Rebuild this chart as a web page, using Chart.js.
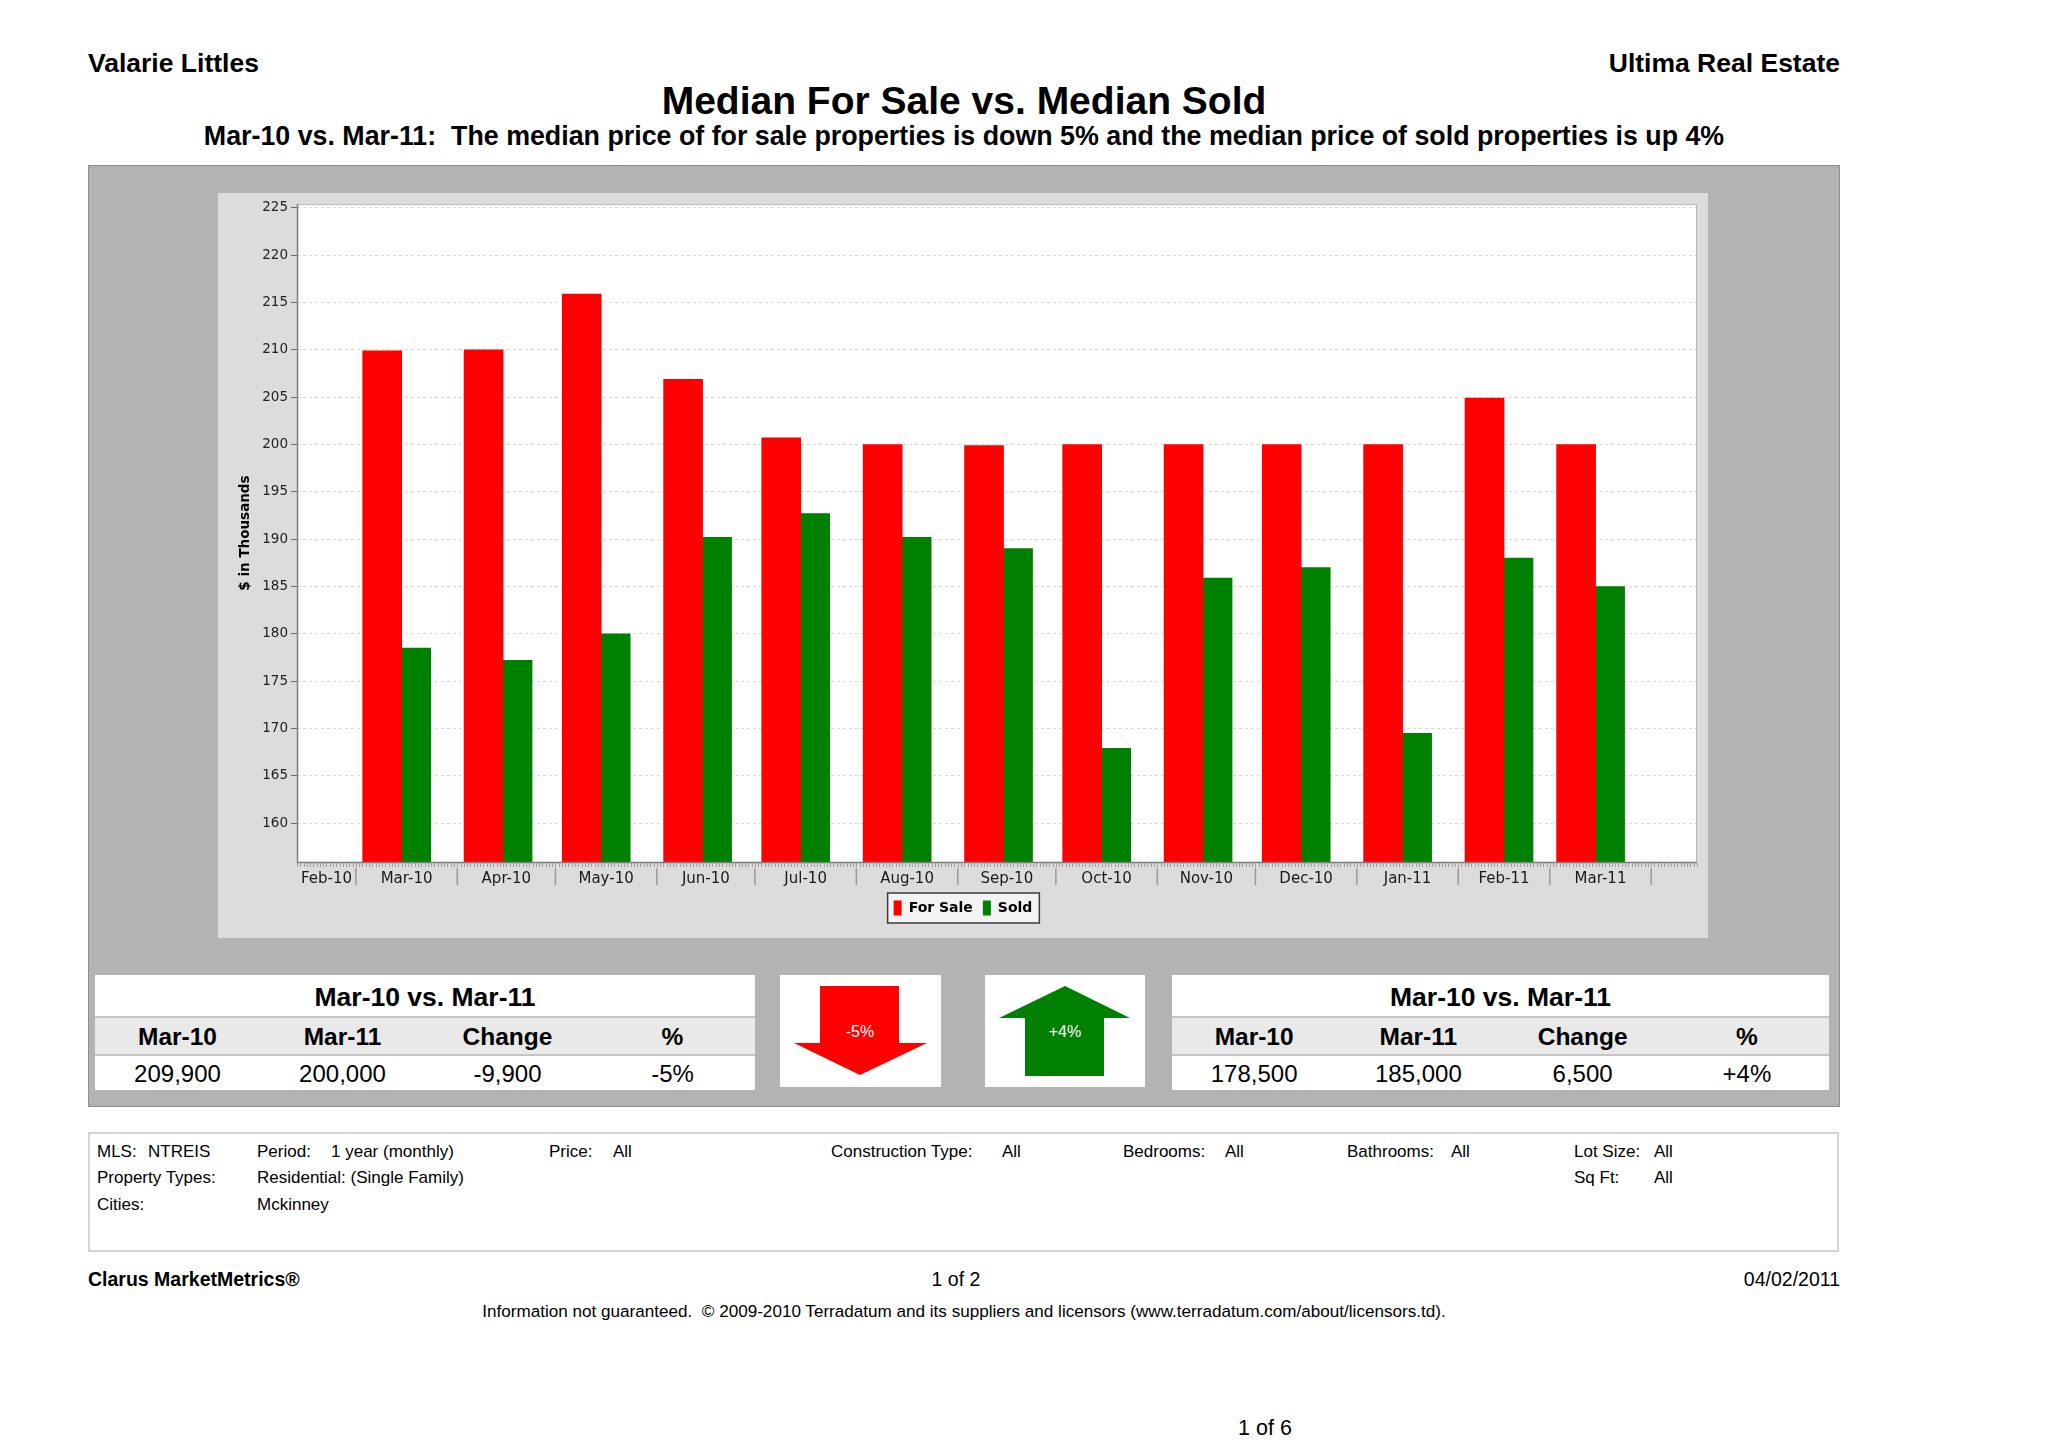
<!DOCTYPE html>
<html>
<head>
<meta charset="utf-8">
<script src="https://cdn.jsdelivr.net/npm/chart.js@4.4.0/dist/chart.umd.min.js"></script>
<style>
  html, body { margin:0; padding:0; background:#fff; }
  body { width:2048px; height:1447px; position:relative; overflow:hidden; font-family:"Liberation Sans", Arial, sans-serif; color:#000; }
  .a { position:absolute; white-space:nowrap; }
  .hdr { font-weight:bold; font-size:26.5px; line-height:30px; }
  .panel { position:absolute; left:88px; top:165px; width:1752px; height:942px; background:#b3b3b3; border:1px solid #8e8e8e; box-sizing:border-box; }
  #cv { position:absolute; left:218px; top:193px; }
  .tbl { position:absolute; top:975px; height:115px; background:#c4c4c4; }
  .row { position:absolute; left:0; right:0; display:flex; }
  .row div { flex:1; text-align:center; }
  .t1 { top:0; height:41px; background:#fff; font-weight:bold; font-size:26.5px; line-height:44px; justify-content:center; }
  .t2 { top:43px; height:36px; background:#e9e9e9; font-weight:bold; font-size:24.5px; line-height:38px; }
  .t3 { top:81px; height:34px; background:#fff; font-size:24px; line-height:35px; }
  .abox { position:absolute; top:975px; width:161px; height:112px; background:#fff; }
  .info { position:absolute; left:88px; top:1132px; width:1751px; height:120px; border:2px solid #d4d4d4; box-sizing:border-box; background:#fff; }
  .it { font-size:17px; line-height:20px; }
</style>
</head>
<body>
<div class="a hdr" style="left:88px; top:48px;">Valarie Littles</div>
<div class="a hdr" style="right:208px; top:48px;">Ultima Real Estate</div>
<div class="a" style="left:0; width:1928px; text-align:center; top:78px; font-weight:bold; font-size:39px; line-height:45px;">Median For Sale vs. Median Sold</div>
<div class="a" style="left:0; width:1928px; text-align:center; top:121px; font-weight:bold; font-size:26.8px; line-height:30px;">Mar-10 vs. Mar-11:&nbsp; The median price of for sale properties is down 5% and the median price of sold properties is up 4%</div>

<div class="panel"></div>
<canvas id="cv" width="1490" height="745"></canvas>

<div class="tbl" style="left:95px; width:660px;">
  <div class="row t1"><div>Mar-10 vs. Mar-11</div></div>
  <div class="row t2"><div>Mar-10</div><div>Mar-11</div><div>Change</div><div>%</div></div>
  <div class="row t3"><div>209,900</div><div>200,000</div><div>-9,900</div><div>-5%</div></div>
</div>
<div class="abox" style="left:780px;">
  <svg width="161" height="112" style="position:absolute;left:0;top:0">
    <polygon points="40,11 119,11 119,68 147,68 80,100 14,68 40,68" fill="#ff0000"/>
    <text x="80" y="62" text-anchor="middle" font-family="Liberation Sans, Arial" font-size="16" fill="#fff">-5%</text>
  </svg>
</div>
<div class="abox" style="left:985px; width:160px;">
  <svg width="160" height="112" style="position:absolute;left:0;top:0">
    <polygon points="80,11 145,43 119,43 119,101 40,101 40,43 14,43" fill="#008000"/>
    <text x="80" y="62" text-anchor="middle" font-family="Liberation Sans, Arial" font-size="16" fill="#fff">+4%</text>
  </svg>
</div>
<div class="tbl" style="left:1172px; width:657px;">
  <div class="row t1"><div>Mar-10 vs. Mar-11</div></div>
  <div class="row t2"><div>Mar-10</div><div>Mar-11</div><div>Change</div><div>%</div></div>
  <div class="row t3"><div>178,500</div><div>185,000</div><div>6,500</div><div>+4%</div></div>
</div>

<div class="info"></div>
<div class="a it" style="left:97px; top:1142px;">MLS:</div>
<div class="a it" style="left:148px; top:1142px;">NTREIS</div>
<div class="a it" style="left:257px; top:1142px;">Period:</div>
<div class="a it" style="left:331px; top:1142px;">1 year (monthly)</div>
<div class="a it" style="left:549px; top:1142px;">Price:</div>
<div class="a it" style="left:613px; top:1142px;">All</div>
<div class="a it" style="left:831px; top:1142px;">Construction Type:</div>
<div class="a it" style="left:1002px; top:1142px;">All</div>
<div class="a it" style="left:1123px; top:1142px;">Bedrooms:</div>
<div class="a it" style="left:1225px; top:1142px;">All</div>
<div class="a it" style="left:1347px; top:1142px;">Bathrooms:</div>
<div class="a it" style="left:1451px; top:1142px;">All</div>
<div class="a it" style="left:1574px; top:1142px;">Lot Size:</div>
<div class="a it" style="left:1654px; top:1142px;">All</div>
<div class="a it" style="left:97px; top:1168px;">Property Types:</div>
<div class="a it" style="left:257px; top:1168px;">Residential: (Single Family)</div>
<div class="a it" style="left:1574px; top:1168px;">Sq Ft:</div>
<div class="a it" style="left:1654px; top:1168px;">All</div>
<div class="a it" style="left:97px; top:1195px;">Cities:</div>
<div class="a it" style="left:257px; top:1195px;">Mckinney</div>

<div class="a" style="left:88px; top:1267px; font-weight:bold; font-size:19.5px; line-height:24px;">Clarus MarketMetrics®</div>
<div class="a" style="left:856px; width:200px; text-align:center; top:1267px; font-size:19.5px; line-height:24px;">1 of 2</div>
<div class="a" style="right:208px; top:1267px; font-size:19.5px; line-height:24px;">04/02/2011</div>
<div class="a" style="left:0; width:1928px; text-align:center; top:1302px; font-size:17.1px; line-height:20px;">Information not guaranteed.&nbsp; © 2009-2010 Terradatum and its suppliers and licensors (www.terradatum.com/about/licensors.td).</div>
<div class="a" style="left:1165px; width:200px; text-align:center; top:1415px; font-size:21.5px; line-height:26px;">1 of 6</div>

<script>
// ---------------- data ----------------
const tickLabels = ['Feb-10','Mar-10','Apr-10','May-10','Jun-10','Jul-10','Aug-10','Sep-10','Oct-10','Nov-10','Dec-10','Jan-11','Feb-11','Mar-11'];
const barMonths  = ['Mar-10','Apr-10','May-10','Jun-10','Jul-10','Aug-10','Sep-10','Oct-10','Nov-10','Dec-10','Jan-11','Feb-11','Mar-11'];
const forSale    = [209.9, 210.0, 215.9, 206.9, 200.7, 200.0, 199.9, 200.0, 200.0, 200.0, 200.0, 204.9, 200.0];
const sold       = [178.5, 177.2, 180.0, 190.2, 192.7, 190.2, 189.0, 167.9, 185.9, 187.0, 169.5, 188.0, 185.0];
const yTicks     = [160,165,170,175,180,185,190,195,200,205,210,215,220,225];
const yRange     = [155.9, 225.4];
const xRange     = ['2010-02-11', '2011-04-15'];
const barDay     = 15;

// ---------------- helpers ----------------
const MON = ['Jan','Feb','Mar','Apr','May','Jun','Jul','Aug','Sep','Oct','Nov','Dec'];
const DAY = 86400000;
function ym(label){ const p = label.split('-'); return [2000 + parseInt(p[1],10), MON.indexOf(p[0])]; }
function dayNum(y, m, d){ return Date.UTC(y, m, d) / DAY; }
function monthStart(label){ const [y,m] = ym(label); return dayNum(y, m, 1); }
function monthEnd(label){ const [y,m] = ym(label); return dayNum(y, m + 1, 1); }
function parseDay(s){ return Date.parse(s + 'T00:00:00Z') / DAY; }
const xMin = parseDay(xRange[0]), xMax = parseDay(xRange[1]);
const tickPos = tickLabels.map(l => (Math.max(monthStart(l), xMin) + Math.min(monthEnd(l), xMax)) / 2);

function labelFor(v){
  for (const l of tickLabels) if (v >= monthStart(l) && v < monthEnd(l)) return l;
  return '';
}

const FONT = '"DejaVu Sans", Verdana, sans-serif';

const decor = {
  id: 'decor',
  beforeDraw(c){
    const {ctx, chartArea:a} = c;
    ctx.save();
    ctx.fillStyle = '#dcdcdc';
    ctx.fillRect(0, 0, c.width, c.height);
    ctx.fillStyle = '#ffffff';
    ctx.fillRect(a.left, a.top, a.right - a.left, a.bottom - a.top);
    const hb = c.legend && c.legend.legendHitBoxes;
    if (hb && hb.length){
      const first = hb[0], last = hb[hb.length - 1];
      const x1 = first.left - 6, x2 = last.left + last.width + 7;
      const y1 = first.top - 7.5, y2 = first.top + first.height + 7.5;
      ctx.fillStyle = '#f3f3f3';
      ctx.fillRect(x1, y1, x2 - x1, y2 - y1);
      ctx.strokeStyle = '#3a3a3a';
      ctx.lineWidth = 1.5;
      ctx.strokeRect(x1, y1, x2 - x1, y2 - y1);
    }
    ctx.restore();
  },
  afterDatasetsDraw(c){
    const {ctx, chartArea:a} = c;
    const xs = c.scales.x;
    ctx.save();
    // frame
    ctx.lineWidth = 1;
    ctx.strokeStyle = '#b4b4b4';
    ctx.beginPath();
    ctx.moveTo(a.left, a.top + 0.5); ctx.lineTo(a.right - 0.5, a.top + 0.5); ctx.lineTo(a.right - 0.5, a.bottom);
    ctx.stroke();
    ctx.strokeStyle = '#7c7c7c';
    ctx.lineWidth = 1.5;
    ctx.beginPath();
    ctx.moveTo(a.left + 0.5, a.top); ctx.lineTo(a.left + 0.5, a.bottom + 0.5); ctx.lineTo(a.right, a.bottom + 0.5);
    ctx.stroke();
    // daily ruler ticks
    ctx.strokeStyle = '#a0a0a0';
    ctx.lineWidth = 1;
    ctx.beginPath();
    for (let d = Math.ceil(xMin); d <= xMax; d++){
      const px = Math.round(xs.getPixelForValue(d)) + 0.5;
      ctx.moveTo(px, a.bottom + 1); ctx.lineTo(px, a.bottom + 5);
    }
    ctx.stroke();
    // month separators
    ctx.strokeStyle = '#9a9a9a';
    ctx.lineWidth = 1.5;
    ctx.beginPath();
    for (const l of tickLabels){
      const e = monthEnd(l);
      if (e > xMin && e < xMax){
        const px = xs.getPixelForValue(e);
        ctx.moveTo(px, a.bottom + 6); ctx.lineTo(px, a.bottom + 23);
      }
    }
    ctx.stroke();
    ctx.restore();
  }
};

new Chart(document.getElementById('cv'), {
  type: 'bar',
  data: {
    datasets: [
      { label: 'For Sale', data: barMonths.map((m, i) => { const [y, mo] = ym(m); return { x: dayNum(y, mo, barDay), y: forSale[i] }; }),
        backgroundColor: '#ff0000', borderWidth: 0, barThickness: 39 },
      { label: 'Sold', data: barMonths.map((m, i) => { const [y, mo] = ym(m); return { x: dayNum(y, mo, barDay), y: sold[i] }; }),
        backgroundColor: '#008000', borderWidth: 0, barThickness: 29 }
    ]
  },
  options: {
    responsive: false,
    animation: false,
    events: [],
    layout: { padding: { left: 11, top: 9, right: 11, bottom: 12.5 } },
    plugins: {
      tooltip: { enabled: false },
      legend: {
        position: 'bottom',
        labels: { boxWidth: 8, boxHeight: 15, padding: 10, color: '#000',
                  font: { family: FONT, size: 14, weight: 'bold' } }
      }
    },
    scales: {
      x: {
        type: 'linear', min: xMin, max: xMax, offset: false,
        afterBuildTicks: s => { s.ticks = tickPos.map(v => ({ value: v })); },
        afterFit: s => { s.height = 28.5; },
        ticks: { autoSkip: false, maxRotation: 0, padding: 2, color: '#1a1a1a',
                 font: { family: FONT, size: 15 }, callback: v => labelFor(v) },
        grid: { display: false, drawTicks: true, tickLength: 6, offset: false },
        border: { display: false }
      },
      y: {
        type: 'linear', min: yRange[0], max: yRange[1], beginAtZero: false,
        afterBuildTicks: s => { s.ticks = yTicks.map(v => ({ value: v })); },
        afterFit: s => { s.width = 68; },
        ticks: { padding: 3, color: '#222', font: { family: FONT, size: 13.5 } },
        grid: { color: '#d9d9d9', lineWidth: 1, tickLength: 6, tickColor: '#6e6e6e', tickBorderDash: [] },
        border: { display: false, dash: [3, 3] },
        title: { display: true, text: '$ in Thousands', color: '#000',
                 font: { family: FONT, size: 13.5, weight: 'bold' }, padding: { top: 8, bottom: 0 } }
      }
    }
  },
  plugins: [decor]
});
</script>
</body>
</html>
